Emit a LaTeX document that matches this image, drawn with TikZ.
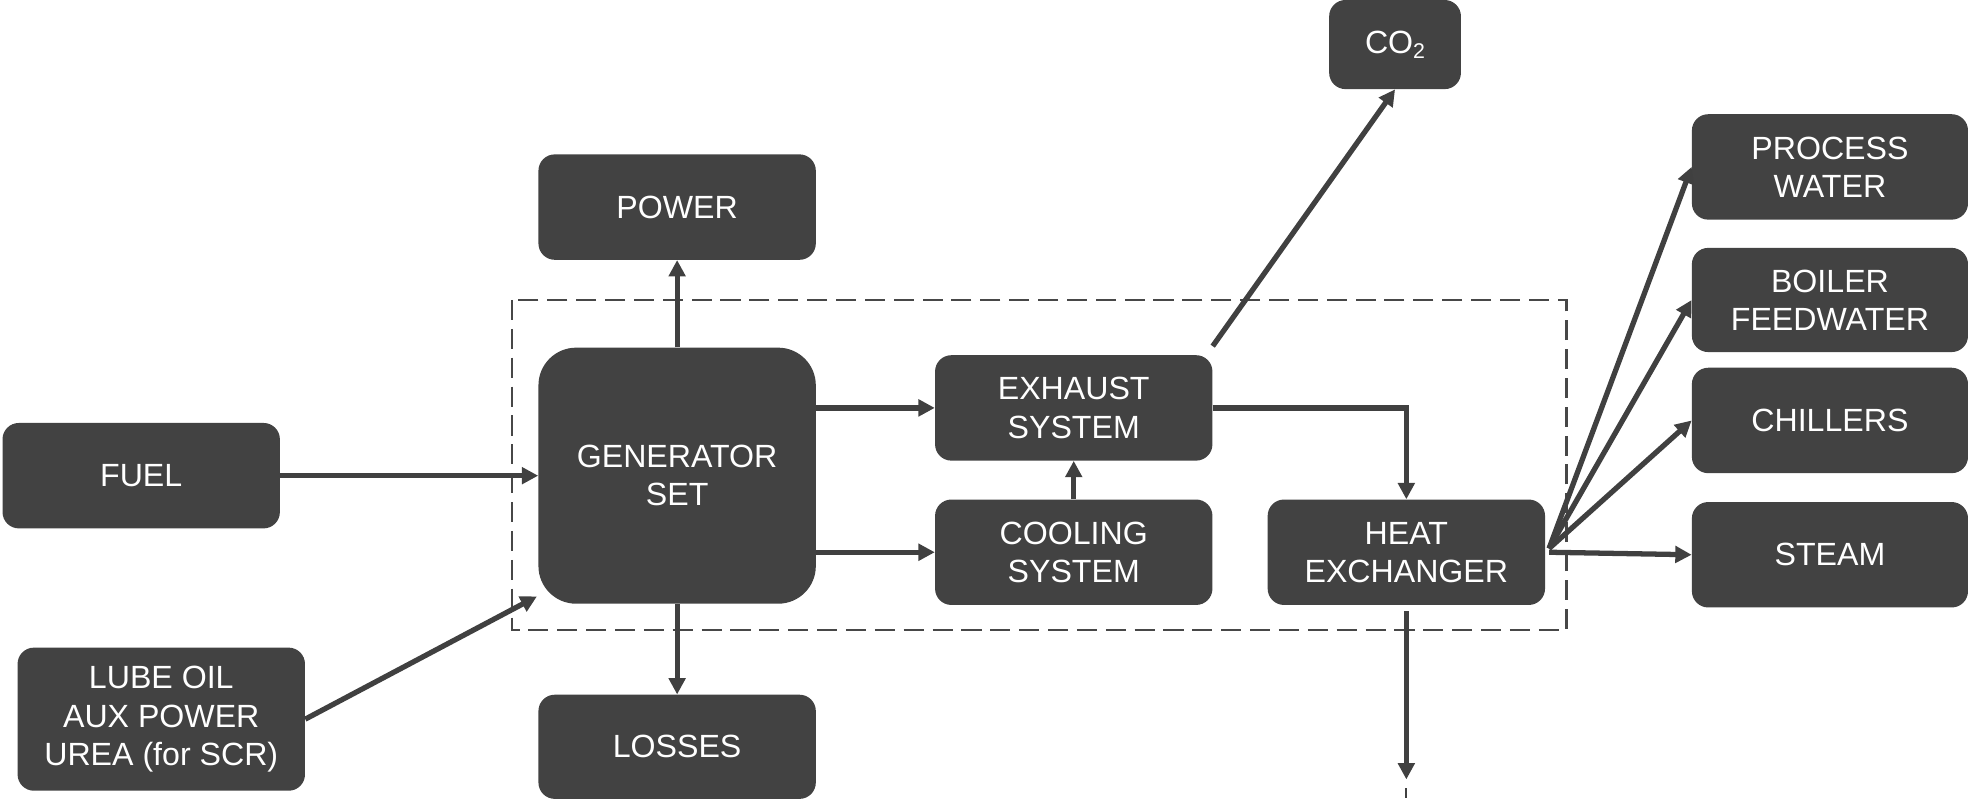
\documentclass[tikz,border=0pt]{standalone}
\usepackage{fontspec}
\setmainfont{Liberation Sans}
\usetikzlibrary{arrows.meta}
\definecolor{boxc}{HTML}{424242}
\definecolor{linec}{HTML}{404040}
\definecolor{dashc}{HTML}{474747}
\begin{document}
\begin{tikzpicture}[x=1pt,y=-1pt,
  blk/.style={fill=boxc,draw=none,rounded corners=13pt,text=white,align=center,
    font=\fontsize{25.6}{30.5}\selectfont,inner sep=0pt},
  conn/.style={draw=linec,line width=4.2pt,-{Triangle[length=13pt,width=13pt]}},
  plain/.style={draw=linec,line width=4.2pt}]
\useasboundingbox (0,0) rectangle (1568,636);
% dashed boundary
\draw[dashc,line width=2pt,dash pattern=on 16pt off 7pt] (408,239) rectangle (1248,502);
% nodes
\node[blk,minimum width=105pt,minimum height=71pt] (co2) at (1111.5,35.5) {CO\raisebox{-0.3ex}{\fontsize{17}{17}\selectfont 2}};
\node[blk,minimum width=221pt,minimum height=84pt] (power) at (539.5,165) {POWER};
\node[blk,minimum width=221pt,minimum height=204pt,rounded corners=30pt] (genset) at (539.5,379) {GENERATOR\\SET};
\node[blk,minimum width=221pt,minimum height=84pt] (exhaust) at (855.5,325) {EXHAUST\\SYSTEM};
\node[blk,minimum width=221pt,minimum height=84pt] (cooling) at (855.5,440) {COOLING\\SYSTEM};
\node[blk,minimum width=221pt,minimum height=84pt] (heatex) at (1120.5,440) {HEAT\\EXCHANGER};
\node[blk,minimum width=221pt,minimum height=84pt] (fuel) at (112.5,379) {FUEL};
\node[blk,minimum width=229pt,minimum height=114pt] (lube) at (128.5,573) {LUBE OIL\\AUX POWER\\UREA (for SCR)};
\node[blk,minimum width=221pt,minimum height=83pt] (losses) at (539.5,595) {LOSSES};
\node[blk,minimum width=220pt,minimum height=84pt] (process) at (1458,133) {PROCESS\\WATER};
\node[blk,minimum width=220pt,minimum height=83pt] (boiler) at (1458,239) {BOILER\\FEEDWATER};
\node[blk,minimum width=220pt,minimum height=84pt] (chillers) at (1458,335) {CHILLERS};
\node[blk,minimum width=220pt,minimum height=84pt] (steam) at (1458,442) {STEAM};
% helper coordinates
\coordinate (co2s) at ([yshift=7pt]exhaust.north east);
\coordinate (hxo) at ([xshift=3pt,yshift=3pt]heatex.east);
\coordinate (hxs) at ([xshift=3pt]heatex.east);
\coordinate (lubeend) at ([xshift=-1pt,yshift=6pt]genset.south west);
\coordinate (hxb) at ([yshift=-5pt]heatex.south);
\coordinate (hxend) at (1120.5,621);
\coordinate (tick1) at (1120.5,628);
\coordinate (tick2) at (1120.5,636);
% connectors
\draw[conn] (fuel.east) -- (genset.west);
\draw[conn] (lube.east) -- (lubeend);
\draw[conn] (genset.north) -- (power.south);
\draw[conn] (genset.south) -- (losses.north);
\draw[conn] (genset.east |- exhaust.west) -- (exhaust.west);
\draw[conn] (genset.east |- cooling.west) -- (cooling.west);
\draw[conn] (cooling.north) -- (exhaust.south);
\draw[conn] (exhaust.east) -| (heatex.north);
\draw[conn] (co2s) -- (co2.south);
\draw[conn] (hxo) -- (process.west);
\draw[conn] (hxo) -- (boiler.west);
\draw[conn] (hxo) -- (chillers.west);
\draw[conn] (hxs) -- (steam.west);
\draw[conn] (hxb) -- (hxend);
\draw[draw=linec,line width=1.5pt] (tick1) -- (tick2);
\end{tikzpicture}
\end{document}
